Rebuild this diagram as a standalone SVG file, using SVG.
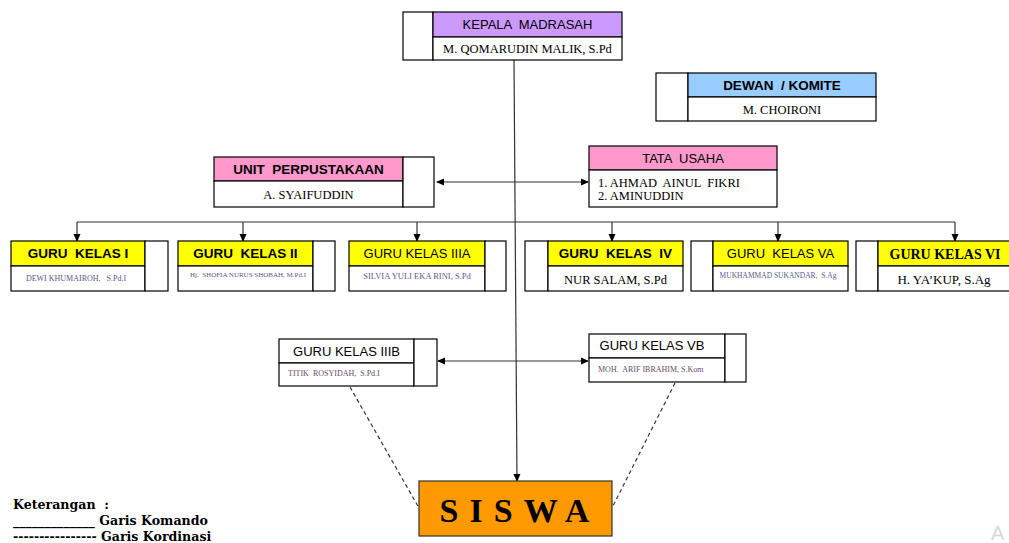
<svg xmlns="http://www.w3.org/2000/svg" width="1009" height="543" viewBox="0 0 1009 543" xml:space="preserve">
<defs>
<marker id="ah" markerWidth="8" markerHeight="8" refX="7" refY="4" orient="auto-start-reverse" markerUnits="userSpaceOnUse">
<path d="M0,0.5 L8,4 L0,7.5 Z" fill="#000"/>
</marker>
<style>
text{white-space:pre}
.bx{fill:#fff;stroke:#000;stroke-width:1.2}
.pu{fill:#cc99ff;stroke:#000;stroke-width:1.2}
.bl{fill:#99ccff;stroke:#000;stroke-width:1.2}
.pk{fill:#ff99cc;stroke:#000;stroke-width:1.2}
.ye{fill:#ffff00;stroke:#000;stroke-width:1.2}
.ln{stroke:#333;stroke-width:1.2;fill:none}
.dl{stroke:#333;stroke-width:1.2;fill:none;stroke-dasharray:4,3}
.ha{font-family:"Liberation Sans",Arial,sans-serif;font-size:13px;fill:#000;text-anchor:middle}
.hb{font-family:"Liberation Sans",Arial,sans-serif;font-size:13.5px;font-weight:bold;fill:#000;text-anchor:middle}
.nm{font-family:"Liberation Serif","Times New Roman",serif;font-size:12.5px;fill:#000;text-anchor:middle}
.sm{font-family:"Liberation Serif","Times New Roman",serif;font-size:8px;fill:#5a5a8a;text-anchor:middle}
.lg{font-family:"DejaVu Serif","Liberation Serif",serif;font-size:12.6px;font-weight:bold;fill:#000}
</style>
</defs>
<rect width="1009" height="543" fill="#fff"/>

<g id="connectors">
<line class="ln" x1="514" y1="60" x2="517" y2="481" marker-end="url(#ah)"/>
<line class="ln" x1="437" y1="182" x2="588" y2="182" marker-start="url(#ah)" marker-end="url(#ah)"/>
<polyline class="ln" points="77,222 955,222"/>
<line class="ln" x1="77" y1="222" x2="77" y2="241" marker-end="url(#ah)"/>
<line class="ln" x1="243" y1="222" x2="243" y2="241" marker-end="url(#ah)"/>
<line class="ln" x1="417" y1="222" x2="417" y2="241" marker-end="url(#ah)"/>
<line class="ln" x1="612" y1="222" x2="612" y2="241" marker-end="url(#ah)"/>
<line class="ln" x1="778" y1="222" x2="778" y2="241" marker-end="url(#ah)"/>
<line class="ln" x1="955" y1="222" x2="955" y2="241" marker-end="url(#ah)"/>
<line class="ln" x1="438" y1="361" x2="588" y2="361" marker-start="url(#ah)" marker-end="url(#ah)"/>
<line class="dl" x1="350" y1="387" x2="419" y2="508"/>
<line class="dl" x1="675" y1="383" x2="612" y2="508"/>
</g>

<g id="kepala">
<rect class="bx" x="403" y="12" width="30" height="48"/>
<rect class="pu" x="433" y="12" width="189" height="25"/>
<rect class="bx" x="433" y="37" width="189" height="23"/>
<text class="ha" x="527.5" y="29">KEPALA  MADRASAH</text>
<text class="nm" x="527.5" y="53">M. QOMARUDIN MALIK, S.Pd</text>
</g>

<g id="dewan">
<rect class="bx" x="656" y="73" width="32" height="48"/>
<rect class="bl" x="688" y="73" width="188" height="24"/>
<rect class="bx" x="688" y="97" width="188" height="24"/>
<text class="hb" x="782" y="90">DEWAN  / KOMITE</text>
<text class="nm" x="782" y="114">M. CHOIRONI</text>
</g>

<g id="perpustakaan">
<rect class="pk" x="214" y="157" width="189" height="24"/>
<rect class="bx" x="214" y="181" width="189" height="26"/>
<rect class="bx" x="403" y="157" width="31" height="50"/>
<text class="hb" x="308.5" y="174">UNIT  PERPUSTAKAAN</text>
<text class="nm" x="308.5" y="199">A. SYAIFUDDIN</text>
</g>

<g id="tatausaha">
<rect class="pk" x="589" y="146" width="188" height="24"/>
<rect class="bx" x="589" y="170" width="188" height="37"/>
<text class="ha" x="683" y="163">TATA  USAHA</text>
<text class="nm" x="598" y="187" style="text-anchor:start">1. AHMAD  AINUL  FIKRI</text>
<text class="nm" x="598" y="200" style="text-anchor:start">2. AMINUDDIN</text>
</g>

<g id="guru1">
<rect class="ye" x="11" y="241" width="134" height="25"/>
<rect class="bx" x="11" y="266" width="134" height="25"/>
<rect class="bx" x="145" y="241" width="23" height="50"/>
<text class="hb" x="78" y="258">GURU  KELAS I</text>
<text class="sm" x="76" y="281">DEWI KHUMAIROH,   S.Pd.I</text>
</g>

<g id="guru2">
<rect class="ye" x="178" y="241" width="135" height="25"/>
<rect class="bx" x="178" y="266" width="135" height="25"/>
<rect class="bx" x="313" y="241" width="22" height="50"/>
<text class="hb" x="245.5" y="258">GURU  KELAS II</text>
<text class="sm" x="248" y="277" style="font-size:7px">Hj.  SHOFIA NURUS SHOBAH, M.Pd.I</text>
</g>

<g id="guru3a">
<rect class="ye" x="349" y="241" width="136" height="25"/>
<rect class="bx" x="349" y="266" width="136" height="25"/>
<rect class="bx" x="485" y="241" width="21" height="50"/>
<text class="ha" x="417" y="258">GURU KELAS IIIA</text>
<text class="sm" x="417" y="279" style="font-size:8.5px">SILVIA YULI EKA RINI, S.Pd</text>
</g>

<g id="guru4">
<rect class="bx" x="525" y="241" width="23" height="50"/>
<rect class="ye" x="548" y="241" width="135" height="25"/>
<rect class="bx" x="548" y="266" width="135" height="25"/>
<text class="hb" x="615.5" y="258">GURU  KELAS  IV</text>
<text class="nm" x="615.5" y="284">NUR SALAM, S.Pd</text>
</g>

<g id="guru5a">
<rect class="bx" x="691" y="241" width="22" height="50"/>
<rect class="ye" x="713" y="241" width="135" height="25"/>
<rect class="bx" x="713" y="266" width="135" height="25"/>
<text class="ha" x="780.5" y="258">GURU  KELAS VA</text>
<text class="sm" x="778" y="278" style="font-size:7.5px">MUKHAMMAD SUKANDAR,  S.Ag</text>
</g>

<g id="guru6">
<rect class="bx" x="856" y="241" width="22" height="50"/>
<rect class="ye" x="878" y="241" width="140" height="25"/>
<rect class="bx" x="878" y="266" width="140" height="25"/>
<text x="945" y="259" text-anchor="middle" font-family="'Liberation Serif','Times New Roman',serif" font-weight="bold" font-size="14">GURU KELAS VI</text>
<text class="nm" x="944" y="284" style="font-size:13px">H. YA’KUP, S.Ag</text>
</g>

<g id="guru3b">
<rect class="bx" x="279" y="339" width="135" height="24"/>
<rect class="bx" x="279" y="363" width="135" height="23"/>
<rect class="bx" x="414" y="339" width="23" height="47"/>
<text class="ha" x="346.5" y="356">GURU KELAS IIIB</text>
<text class="sm" x="288" y="376" style="text-anchor:start;fill:#6a4a6a">TITIK  ROSYIDAH,  S.Pd.I</text>
</g>

<g id="guru5b">
<rect class="bx" x="589" y="334" width="136" height="24"/>
<rect class="bx" x="589" y="358" width="136" height="24"/>
<rect class="bx" x="725" y="334" width="21" height="48"/>
<text class="ha" x="652" y="350">GURU KELAS VB</text>
<text class="sm" x="598" y="372" style="text-anchor:start;fill:#6a4a6a">MOH.  ARIF IBRAHIM, S.Kom</text>
</g>

<g id="siswa">
<rect x="419" y="481" width="193" height="55" fill="#ff9900" stroke="#333" stroke-width="1.2"/>
<text x="520" y="522" font-family="'Liberation Serif','Times New Roman',serif" font-size="34" font-weight="bold" text-anchor="middle" letter-spacing="11" fill="#000">SISWA</text>
</g>

<g id="legend">
<text class="lg" x="13" y="509">Keterangan  :</text>
<text class="lg" x="13" y="525">_____________ Garis Komando</text>
<text class="lg" x="13" y="541">---------------- Garis Kordinasi</text>
</g>

<text x="991" y="540" font-family="'Liberation Sans',Arial,sans-serif" font-size="20" fill="#d8d8d8">A</text>
</svg>
